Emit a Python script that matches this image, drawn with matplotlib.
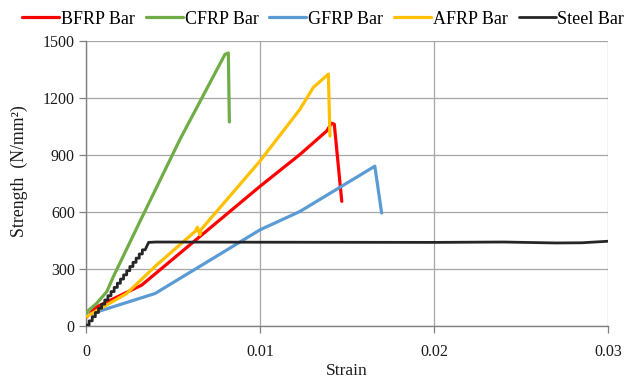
import matplotlib
matplotlib.use("Agg")
import matplotlib.pyplot as plt

plt.rcParams['font.family'] = ['Liberation Serif', 'DejaVu Serif']

# Stress-strain curves (strain, stress in N/mm^2)
bfrp_strain = [0.0, 0.0006, 0.0032, 0.0100, 0.0123, 0.01383, 0.01412, 0.01427, 0.0147]
bfrp_stress = [45, 100, 215, 735, 903, 1026, 1067, 1062, 656]

cfrp_strain = [0.0, 0.0006, 0.00119, 0.00157, 0.0031, 0.0054, 0.00799, 0.00818, 0.00824]
cfrp_stress = [71, 118, 180, 259, 550, 982, 1430, 1437, 1074]

gfrp_strain = [0.0, 0.00397, 0.0100, 0.0123, 0.0166, 0.01699]
gfrp_stress = [56, 171, 506, 603, 841, 595]

afrp_strain = [0.0, 0.00234, 0.00406, 0.0063, 0.0064, 0.00655, 0.0066, 0.0100, 0.0123,
               0.01307, 0.01393, 0.01402]
afrp_stress = [48, 171, 321, 500, 520, 480, 506, 868, 1141, 1256, 1326, 1000]

steel_strain = [0.0, 0.00018, 0.00018, 0.00036, 0.00036, 0.00054, 0.00054, 0.00072, 0.00072,
                0.00090, 0.00090, 0.00108, 0.00108, 0.00126, 0.00126, 0.00144, 0.00144,
                0.00162, 0.00162, 0.00180, 0.00180, 0.00198, 0.00198, 0.00216, 0.00216,
                0.00234, 0.00234, 0.00252, 0.00252, 0.00270, 0.00270, 0.00288, 0.00288,
                0.00306, 0.00306, 0.00324, 0.00324, 0.0034, 0.0036, 0.0040,
                0.0100, 0.0200, 0.0240, 0.0270, 0.0285, 0.0300]
steel_stress = [5, 5, 27, 27, 49, 49, 71, 71, 93, 93, 115, 115, 137, 137, 159, 159, 181,
                181, 203, 203, 225, 225, 247, 247, 269, 269, 291, 291, 313, 313, 335, 335,
                357, 357, 379, 379, 401, 401, 440, 442,
                441, 440, 442, 437, 438, 446]

series = [
    ("BFRP Bar", bfrp_strain, bfrp_stress, "#FF0000", 2.3),
    ("CFRP Bar", cfrp_strain, cfrp_stress, "#70AD47", 2.3),
    ("GFRP Bar", gfrp_strain, gfrp_stress, "#5B9BD5", 2.3),
    ("AFRP Bar", afrp_strain, afrp_stress, "#FFC000", 2.3),
    ("Steel Bar", steel_strain, steel_stress, "#262626", 2.0),
]

x_ticks = [0, 0.01, 0.02, 0.03]
x_tick_labels = ["0", "0.01", "0.02", "0.03"]
y_ticks = [0, 300, 600, 900, 1200, 1500]

fig = plt.figure(figsize=(6.29, 3.78), dpi=100)
ax = fig.add_axes([0.1367, 0.1376, 0.8299, 0.7539])

for label, xs, ys, color, lw in series:
    ax.plot(xs, ys, color=color, lw=lw, label=label, solid_joinstyle='round',
            solid_capstyle='round', zorder=3)

ax.set_xlim(0, 0.03)
ax.set_ylim(0, 1500)
ax.set_xticks(x_ticks)
ax.set_xticklabels(x_tick_labels)
ax.set_yticks(y_ticks)

ax.grid(True, color="#A6A6A6", lw=0.9, zorder=0)
ax.set_axisbelow(True)
for side in ("top", "right"):
    ax.spines[side].set_visible(False)
for side in ("left", "bottom"):
    ax.spines[side].set_color("#808080")
    ax.spines[side].set_linewidth(1.0)

ax.tick_params(axis='both', direction='out', length=5, width=0.9, color="#808080",
               labelsize=11.5, labelcolor="#1a1a1a")
ax.tick_params(axis='x', pad=8)
ax.tick_params(axis='y', pad=3)

ax.set_xlabel("Strain", fontsize=12.5, labelpad=2, color="#1a1a1a")
ax.set_ylabel("Strength  (N/mm²)", fontsize=12.8, color="#1a1a1a")
ax.yaxis.set_label_coords(-0.111, 0.544)

fig.legend(loc="center", bbox_to_anchor=(0.514, 1 - 19 / 378), ncol=5, frameon=False,
           fontsize=13, handlelength=2.05, handletextpad=0.1, columnspacing=0.6,
           borderaxespad=0.0, borderpad=0.0)

fig.savefig("out.png", dpi=100)
